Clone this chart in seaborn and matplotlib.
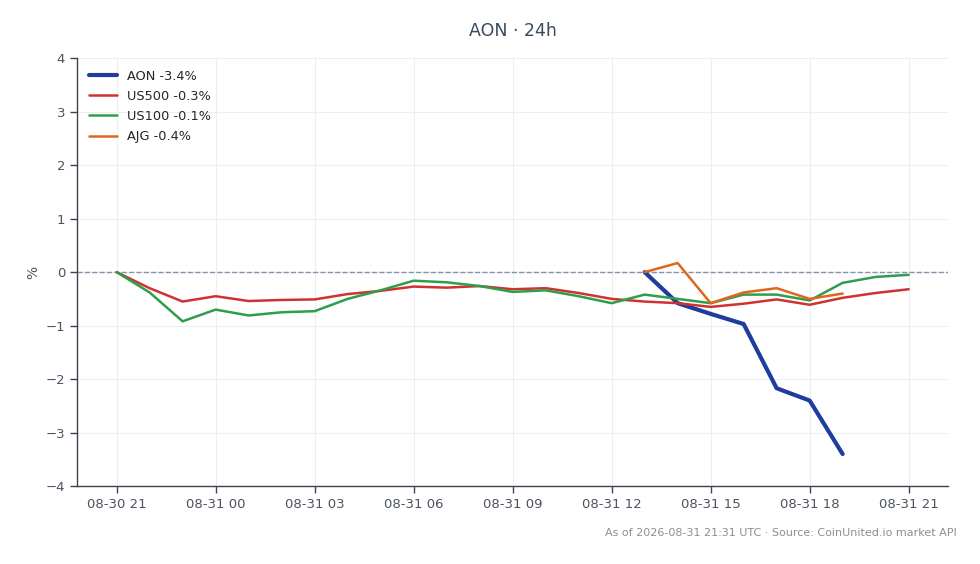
import matplotlib
matplotlib.use('Agg')
import matplotlib.pyplot as plt
import matplotlib.dates as mdates
import numpy as np
import pandas as pd
import seaborn as sns

# hourly timestamps, 08-30 21:00 -> 08-31 21:00
hours = pd.date_range('2026-08-30 21:00', '2026-08-31 21:00', freq='h')

us500 = [0, -0.30, -0.55, -0.45, -0.54, -0.52, -0.51, -0.41, -0.35, -0.27, -0.29, -0.26,
         -0.32, -0.30, -0.39, -0.50, -0.55, -0.58, -0.65, -0.59, -0.51, -0.61, -0.48, -0.39, -0.32]
us100 = [0, -0.38, -0.92, -0.70, -0.81, -0.75, -0.73, -0.50, -0.34, -0.16, -0.19, -0.26,
         -0.37, -0.34, -0.45, -0.58, -0.42, -0.50, -0.58, -0.42, -0.42, -0.53, -0.20, -0.09, -0.05]
aon = [None] * 16 + [0, -0.58, -0.78, -0.97, -2.17, -2.40, -3.40]
ajg = [None] * 16 + [0, 0.17, -0.58, -0.38, -0.30, -0.50, -0.40]

names = ['AON', 'US500', 'US100', 'AJG']
series = [aon, us500, us100, ajg]
changes = ['-3.4%', '-0.3%', '-0.1%', '-0.4%']
colors = ['#1f3d9c', '#d03232', '#2e9e4c', '#e0661e']
widths = [3.0, 1.8, 1.8, 1.8]

sns.set_style('white')
plt.rcParams['font.family'] = ['DejaVu Sans']

fig = plt.figure(figsize=(9.8, 5.64), dpi=100)
ax = fig.add_axes([0.0786, 0.138, 0.889, 0.759])

for name, vals, chg, col, lw in zip(names, series, changes, colors, widths):
    df = pd.DataFrame({'time': hours[:len(vals)], 'pct': vals}).dropna()
    sns.lineplot(data=df, x='time', y='pct', ax=ax, color=col, linewidth=lw,
                 label=f'{name} {chg}', zorder=3)

ax.axhline(0, color='#8594a8', linestyle='--', linewidth=1, zorder=2)

ax.set_ylim(-4, 4)
ax.set_xlim(hours[0] - pd.Timedelta(hours=1.2), hours[-1] + pd.Timedelta(hours=1.2))
ax.xaxis.set_major_locator(mdates.HourLocator(byhour=range(0, 24, 3)))
ax.xaxis.set_major_formatter(mdates.DateFormatter('%m-%d %H'))

ax.grid(True, color='#eceef2', linewidth=0.8, zorder=0)
ax.set_axisbelow(True)
for s in ['top', 'right']:
    ax.spines[s].set_visible(False)
for s in ['left', 'bottom']:
    ax.spines[s].set_color('#3a4450')
    ax.spines[s].set_linewidth(1)

ax.tick_params(axis='both', colors='#3a4450', labelcolor='#4a5360', labelsize=9.5,
               length=5, width=1, bottom=True, left=True)
ax.set_xlabel('')
ax.set_ylabel('%', color='#4a5360', fontsize=10)
ax.set_title('AON · 24h', color='#3a4a5c', fontsize=12.5, pad=16)

ax.legend(loc='upper left', frameon=False, fontsize=9.3, handlelength=2.2,
          borderaxespad=0.5, labelspacing=0.55)

fig.text(0.976, 0.055, 'As of 2026-08-31 21:31 UTC · Source: CoinUnited.io market API',
         ha='right', va='center', fontsize=8, color='#8a8f96')

fig.savefig('out.png', dpi=100)
